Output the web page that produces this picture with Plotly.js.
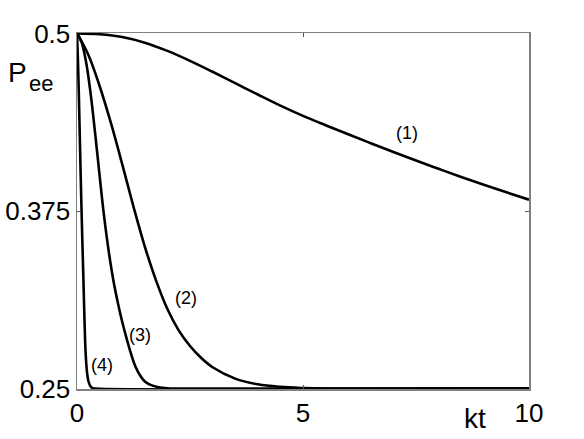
<!DOCTYPE html>
<html>
<head>
<meta charset="utf-8">
<script src="https://cdn.plot.ly/plotly-3.0.1.min.js"></script>
<style>
  html, body { margin: 0; padding: 0; background: #fff; }
  #graph { width: 584px; height: 439px; }
</style>
</head>
<body>
<div id="graph"></div>
<script>
// valores (kt, Pee)
const kt1 = [0, 0.5, 1, 1.5, 2, 2.5, 3, 3.5, 4, 4.5, 5, 5.5, 6, 6.5, 7, 7.5, 8, 8.5, 9, 9.5, 10];
const pee1 = [0.5, 0.4994, 0.4975, 0.4935, 0.4877, 0.4807, 0.473, 0.465, 0.457, 0.4492, 0.442, 0.4354, 0.429, 0.4227, 0.4165, 0.4105, 0.4047, 0.399, 0.3935, 0.3882, 0.383];

const kt2 = [0, 0.25, 0.5, 0.75, 1, 1.25, 1.5, 1.75, 2, 2.25, 2.5, 2.75, 3, 3.5, 4, 4.5, 5, 5.5, 10];
const pee2 = [0.5, 0.485, 0.463, 0.437, 0.408, 0.378, 0.35, 0.326, 0.306, 0.291, 0.28, 0.2715, 0.265, 0.257, 0.253, 0.2512, 0.2504, 0.25, 0.25];

const kt3 = [0, 0.1, 0.2, 0.3, 0.4, 0.5, 0.6, 0.7, 0.8, 0.9, 1.0, 1.1, 1.2, 1.3, 1.4, 1.5, 1.6, 1.8, 2.0, 2.2, 10];
const pee3 = [0.5, 0.494, 0.48, 0.458, 0.43, 0.4, 0.371, 0.347, 0.327, 0.311, 0.297, 0.285, 0.274, 0.265, 0.259, 0.255, 0.253, 0.251, 0.2502, 0.25, 0.25];

const kt4 = [0, 0.02, 0.04, 0.06, 0.08, 0.1, 0.12, 0.14, 0.16, 0.18, 0.2, 0.22, 0.25, 0.3, 0.35, 0.4, 10];
const pee4 = [0.5, 0.482, 0.458, 0.43, 0.402, 0.376, 0.352, 0.329, 0.305, 0.283, 0.27, 0.262, 0.2555, 0.2515, 0.2503, 0.25, 0.25];

const etiquetas = ['(1)', '(2)', '(3)', '(4)'];
const etiquetaX = [7.3, 2.41, 1.39, 0.55];
const etiquetaY = [0.4298, 0.3139, 0.2879, 0.2669];

const xTicks = [0, 5, 10];
const yTicks = [0.25, 0.375, 0.5];
const yTickText = ['0.25', '0.375', '0.5'];

const fuente = 'Liberation Sans, Arial, sans-serif';

function curva(x, y){
    return {
        type: 'scatter',
        mode: 'lines',
        x: x,
        y: y,
        line: {color: '#000', width: 2.6, shape: 'spline', smoothing: 1},
        showlegend: false,
        hoverinfo: 'skip'
    };
}

const traces = [curva(kt1, pee1), curva(kt2, pee2), curva(kt3, pee3), curva(kt4, pee4)];

const anotaciones = etiquetas.map((t, i) => ({
    x: etiquetaX[i], y: etiquetaY[i], xref: 'x', yref: 'y',
    xanchor: 'center', yanchor: 'middle',
    text: t, showarrow: false,
    font: {family: fuente, size: 18, color: '#000'}
}));

// titulos de ejes como anotaciones (posicion en pixeles)
const titulos = [
    {text: 'P', px: 18, py: 72, size: 28},
    {text: 'ee', px: 41, py: 84, size: 22},
    {text: 'kt', px: 475, py: 418, size: 28}
];

const L = 77, R = 55, T = 33, B = 50, W = 584, H = 439;
const pw = W - L - R, ph = H - T - B;
for (let t of titulos){
    anotaciones.push({
        x: (t.px - L) / pw, y: 1 - (t.py - T) / ph,
        xref: 'paper', yref: 'paper',
        xanchor: 'center', yanchor: 'middle',
        text: t.text, showarrow: false,
        font: {family: fuente, size: t.size, color: '#000'}
    });
}

const layout = {
    width: W,
    height: H,
    margin: {l: L, r: R, t: T, b: B, pad: 0},
    paper_bgcolor: '#fff',
    plot_bgcolor: '#fff',
    font: {family: fuente, size: 26, color: '#000'},
    xaxis: {
        range: [0, 10],
        tickvals: xTicks,
        ticks: 'inside', ticklen: 4, tickcolor: '#555',
        showline: true, linecolor: '#808080', linewidth: 1.5, mirror: 'ticks',
        showgrid: false, zeroline: false,
        tickfont: {family: fuente, size: 26, color: '#000'}
    },
    yaxis: {
        range: [0.2497, 0.5003],
        tickvals: yTicks,
        ticktext: yTickText,
        ticks: 'inside', ticklen: 4, tickcolor: '#555',
        showline: true, linecolor: '#808080', linewidth: 1.5, mirror: 'ticks',
        showgrid: false, zeroline: false,
        tickfont: {family: fuente, size: 26, color: '#000'}
    },
    annotations: anotaciones
};

Plotly.newPlot('graph', traces, layout, {staticPlot: true, displayModeBar: false});
</script>
</body>
</html>
